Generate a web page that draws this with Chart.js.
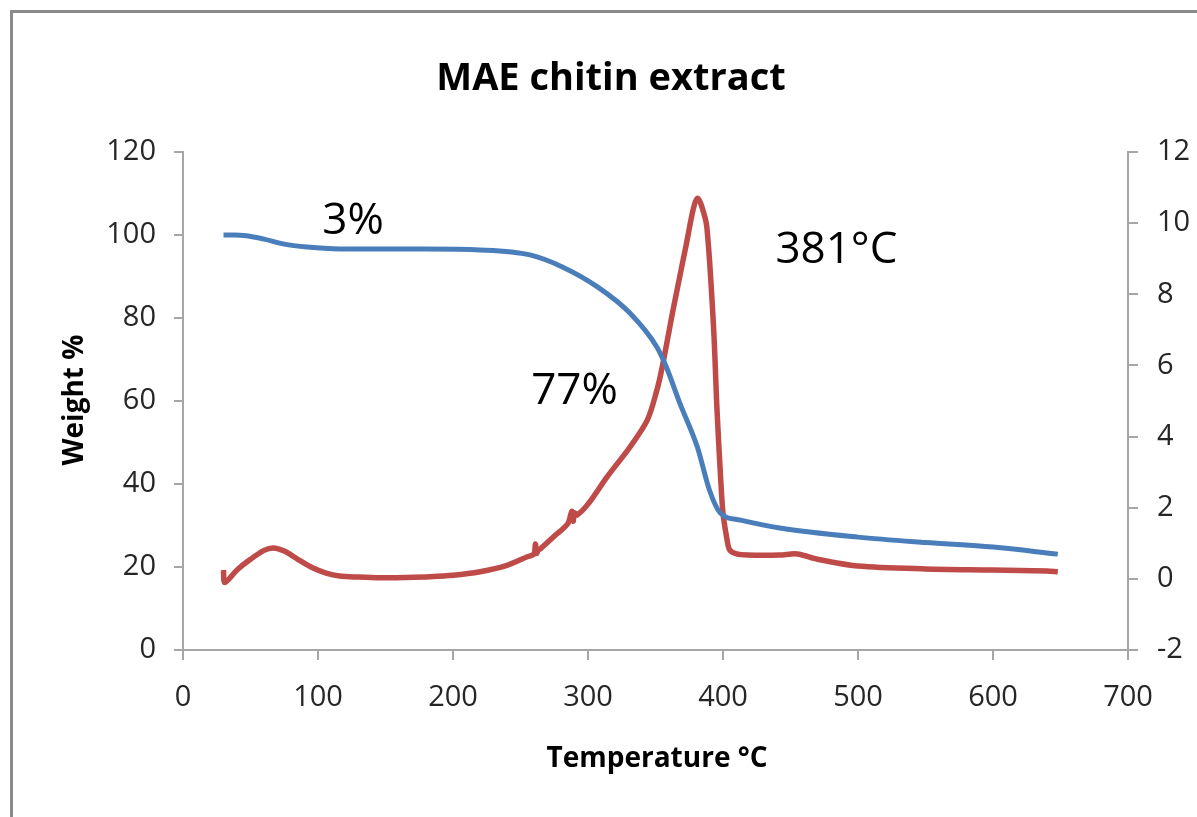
<!DOCTYPE html>
<html>
<head>
<meta charset="utf-8">
<script src="https://cdn.jsdelivr.net/npm/chart.js@4.4.1/dist/chart.umd.min.js"></script>
<style>
  body { margin: 0; background: #fff; }
  #wrap { position: relative; width: 1197px; height: 817px; overflow: hidden; }
  #frame { position: absolute; left: 10px; top: 10px; width: 1300px; height: 900px;
           border-left: 3px solid #8a8a8a; border-top: 3px solid #8a8a8a; }
  canvas { position: absolute; left: 0; top: 0; }
</style>
</head>
<body>
<div id="wrap">
  <div id="frame"></div>
  <canvas id="chart" width="1197" height="817"></canvas>
</div>
<script>
// TGA weight loss curve (left axis)
const tgaTemp = [30, 38, 47, 60, 75, 92, 111, 140, 180, 220, 257, 281, 307, 331, 351, 358, 368, 381, 390, 398, 413, 442, 500, 550, 600, 648];
const tgaWeight = [100, 100, 99.8, 99, 97.8, 97.1, 96.7, 96.6, 96.6, 96.4, 95.2, 92.3, 87.5, 81.2, 73, 68.2, 59.5, 48.9, 38.5, 33, 31.3, 29.4, 27.2, 25.9, 24.8, 23.1];

// derivative curve (right axis)
const dtgTemp = [30, 31, 40, 50, 60, 67, 75, 85, 96, 106, 116, 130, 146, 165, 183, 200, 220, 240, 255, 260, 261, 262, 263, 265, 275, 285, 288, 289, 290, 292, 300, 314, 331, 344, 351, 355, 363, 373, 378, 381, 384, 388, 393, 395.5, 398, 400, 403, 405, 410, 418, 442, 455, 470, 500, 550, 600, 640, 648];
const dtgVals = [0.25, -0.1, 0.25, 0.55, 0.8, 0.87, 0.78, 0.55, 0.31, 0.16, 0.08, 0.05, 0.03, 0.04, 0.06, 0.1, 0.2, 0.38, 0.62, 0.7, 0.98, 0.72, 0.8, 0.85, 1.2, 1.55, 1.9, 1.62, 1.85, 1.8, 2.1, 2.86, 3.7, 4.47, 5.3, 5.96, 7.56, 9.44, 10.4, 10.7, 10.5, 9.9, 7.08, 4.8, 3.0, 1.85, 1.1, 0.81, 0.7, 0.67, 0.67, 0.7, 0.55, 0.36, 0.28, 0.25, 0.22, 0.2];

const peakTemp = 381;
const notes = [
  { text: '3%', x: 126, y: 100.2 },
  { text: '77%', x: 290, y: 59.3 },
  { text: peakTemp + '°C', x: 484, y: 93.3 }
];

const FONT = '"Open Sans", "Noto Sans", sans-serif';
const axisGray = '#a6a6a6';

const textPlugin = {
  id: 'texts',
  afterDraw(chart) {
    const c = chart.ctx;
    const x = chart.scales.x, y = chart.scales.y;
    c.save();
    c.fillStyle = '#000';
    c.textAlign = 'center';
    c.textBaseline = 'alphabetic';
    c.font = 'bold 38px ' + FONT;
    c.fillText('MAE chitin extract', 611, 90);
    c.font = 'bold 28px ' + FONT;
    c.fillText('Temperature °C', 657, 767);
    c.save();
    c.translate(83, 400);
    c.rotate(-Math.PI / 2);
    c.fillText('Weight %', 0, 0);
    c.restore();
    c.font = '44px ' + FONT;
    notes.forEach(n => c.fillText(n.text, x.getPixelForValue(n.x), y.getPixelForValue(n.y)));
    c.restore();
  }
};

const tickFont = { family: FONT, size: 29 };
const tickColor = '#262626';

new Chart(document.getElementById('chart').getContext('2d'), {
  type: 'line',
  data: {
    datasets: [{
      data: tgaTemp.map((t, i) => ({ x: t, y: tgaWeight[i] })),
      borderColor: '#4a7ebb',
      borderWidth: 5,
      pointRadius: 0,
      cubicInterpolationMode: 'monotone',
      yAxisID: 'y'
    }, {
      data: dtgTemp.map((t, i) => ({ x: t, y: dtgVals[i] })),
      borderColor: '#be4b48',
      borderWidth: 5.5,
      pointRadius: 0,
      tension: 0.3,
      yAxisID: 'y1'
    }]
  },
  options: {
    responsive: false,
    animation: false,
    layout: { padding: { top: 152, left: 0, right: 0, bottom: 0 } },
    plugins: { legend: { display: false }, tooltip: { enabled: false } },
    scales: {
      x: {
        type: 'linear', min: 0, max: 700,
        ticks: { stepSize: 100, color: tickColor, font: tickFont, padding: 20, maxRotation: 0 },
        grid: { drawOnChartArea: false, color: axisGray, lineWidth: 2, tickLength: 10 },
        border: { color: axisGray, width: 2 },
        afterFit(s) { s.height = 167; }
      },
      y: {
        position: 'left', min: 0, max: 120,
        ticks: { stepSize: 20, color: tickColor, font: tickFont, padding: 18 },
        grid: { drawOnChartArea: false, color: axisGray, lineWidth: 2, tickLength: 9 },
        border: { color: axisGray, width: 2 },
        afterFit(s) { s.width = 183; }
      },
      y1: {
        position: 'right', min: -2, max: 12,
        ticks: { stepSize: 2, color: tickColor, font: tickFont, padding: 19 },
        grid: { drawOnChartArea: false, color: axisGray, lineWidth: 2, tickLength: 10 },
        border: { color: axisGray, width: 2 },
        afterFit(s) { s.width = 69; }
      }
    }
  },
  plugins: [textPlugin]
});
</script>
</body>
</html>
